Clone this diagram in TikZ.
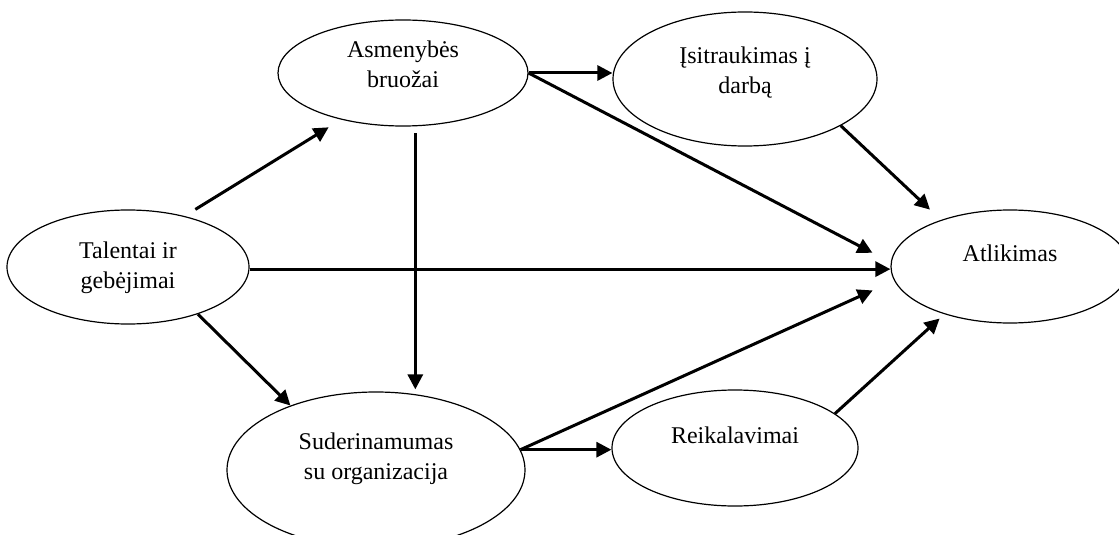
\documentclass[tikz,border=0pt]{standalone}
\usepackage{fontspec}
\setmainfont{Liberation Serif}
\usepackage{tikz}
\usetikzlibrary{arrows.meta,shapes.geometric}

\begin{document}
\begin{tikzpicture}[x=.5pt,y=-.5pt,
    every node/.style={font=\fontsize{12}{15}\selectfont},
    blob/.style={draw,ellipse,line width=.6pt,inner sep=0pt,align=center},
    oneline/.style={text height=9pt,text depth=#1},
    twoline/.style={text height=24pt,text depth=#1},
    link/.style={-{Triangle[length=7.5pt,width=7.5pt]},line width=1.5pt}]
      \useasboundingbox (0,0) rectangle (1119,535);
      % the six ellipses
      \node[blob,twoline=2.6pt,minimum width=121pt,minimum height=57pt] (tal) at (128,267) {Talentai ir\\gebėjimai};
      \node[blob,twoline=9.1pt,minimum width=125pt,minimum height=53pt] (asm) at (403,73) {Asmenybės\\bruožai};
      \node[blob,twoline=9.6pt,minimum width=132pt,minimum height=67pt] (isi) at (745,79) {Įsitraukimas į\\darbą};
      \node[blob,oneline=13.6pt,minimum width=119pt,minimum height=56.5pt] (atl) at (1010,266.5) {Atlikimas};
      \node[blob,twoline=14.6pt,minimum width=149pt,minimum height=78pt] (sud) at (376,470) {Suderinamumas\\su organizacija};
      \node[blob,oneline=13.6pt,minimum width=123pt,minimum height=58pt] (rei) at (735,448) {Reikalavimai};
      % arrows
      \draw[link,shorten <=6.3pt,shorten >=7.3pt] (tal.42) -- (asm.217);
      \draw[link] (asm.east) -- (asm.east -| isi.west);
      \draw[link,shorten >=10.3pt] (asm.east) -- (atl.178);
      \draw[link,shorten <=3.5pt,shorten >=1pt] (asm.-77) -- (asm.-77 |- sud.north);
      \draw[link,shorten >=7.5pt] (isi.-26) -- (atl.146);
      \draw[link] (tal.-1) -- (tal.-1 -| atl.west);
      \draw[link] (tal.-34) -- (sud.143);
      \draw[link,shorten >=11.8pt] (sud.8) -- (atl.187);
      \draw[link] (sud.8) -- (sud.8 -| rei.west);
      \draw[link,shorten >=3.2pt] (rei.19) -- (atl.216);
    \end{tikzpicture}
\end{document}
